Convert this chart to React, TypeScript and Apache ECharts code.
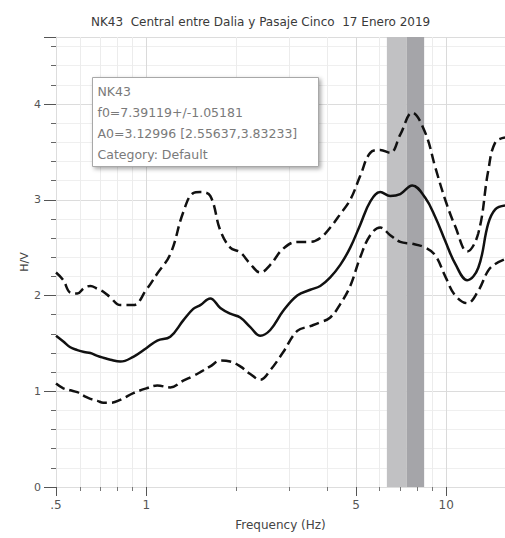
import React, { useEffect, useRef } from "react";
import * as echarts from "echarts";

// ---- data ----
const freqs = [
  0.5, 0.529, 0.558, 0.589, 0.621, 0.651, 0.687, 0.719, 0.759, 0.819, 0.905,
  1.0, 1.088, 1.202, 1.328, 1.434, 1.514, 1.634, 1.765, 1.905, 2.057, 2.222,
  2.399, 2.59, 2.862, 3.187, 3.522, 3.802, 4.105, 4.433, 4.786, 5.168, 5.58,
  6.026, 6.506, 7.025, 7.702, 8.511, 9.19, 9.923, 10.72, 11.75, 12.79, 13.8,
  14.57, 15.7,
];
const meanHV = [
  1.58, 1.52, 1.46, 1.43, 1.41, 1.4, 1.37, 1.35, 1.33, 1.31, 1.36,
  1.45, 1.53, 1.57, 1.74, 1.86, 1.9, 1.97, 1.87, 1.81, 1.77, 1.67,
  1.58, 1.64, 1.84, 2.0, 2.06, 2.1, 2.19, 2.32, 2.5, 2.74, 2.98,
  3.08, 3.04, 3.06, 3.15, 3.02, 2.82, 2.57, 2.33, 2.16, 2.29, 2.75,
  2.9, 2.94,
];
const upperHV = [
  2.24, 2.16, 2.03, 2.02, 2.08, 2.1, 2.07, 2.04, 1.98, 1.9, 1.9,
  2.06, 2.23, 2.43, 2.87, 3.07, 3.08, 3.04, 2.68, 2.5, 2.45, 2.33,
  2.24, 2.32, 2.49, 2.56, 2.56, 2.6, 2.71, 2.85, 3.0, 3.25, 3.49,
  3.52, 3.49, 3.68, 3.91, 3.7, 3.34, 3.0, 2.72, 2.46, 2.65, 3.3,
  3.6, 3.65,
];
const lowerHV = [
  1.08, 1.03, 1.01, 0.99, 0.95, 0.92, 0.9, 0.88, 0.88, 0.91, 0.98,
  1.03, 1.06, 1.04, 1.11, 1.16, 1.2, 1.26, 1.32, 1.31, 1.26, 1.18,
  1.12, 1.22, 1.41, 1.63, 1.68, 1.72, 1.77, 1.91, 2.1, 2.4, 2.63,
  2.71, 2.63, 2.56, 2.54, 2.5, 2.42, 2.2, 2.0, 1.92, 2.05, 2.26,
  2.33, 2.38,
];
const majorFreqTicks = [0.5, 1, 5, 10];
const minorFreqTicks = [0.6, 0.7, 0.8, 0.9, 2, 3, 4, 6, 7, 8, 9];
const f0Band = [6.34, 7.39, 8.44]; // f0 - std, f0, f0 + std
const titleText = "NK43  Central entre Dalia y Pasaje Cinco  17 Enero 2019";
const legendLines = [
  "NK43",
  "f0=7.39119+/-1.05181",
  "A0=3.12996 [2.55637,3.83233]",
  "Category: Default",
];

const X_MIN = 0.5;
const X_MAX = 15.7;
const Y_MAX = 4.7;

export default function App() {
  const ref = useRef<HTMLDivElement>(null);

  useEffect(() => {
    if (!ref.current) return;
    const chart = echarts.init(ref.current, null, { renderer: "svg" });
    const toPts = (vals: number[]) => freqs.map((f, i) => [f, vals[i]]);
    const font = "'DejaVu Sans', sans-serif";

    chart.setOption({
      animation: false,
      backgroundColor: "#ffffff",
      title: {
        text: titleText,
        left: 86,
        top: 11,
        textStyle: { fontFamily: font, fontSize: 12, fontWeight: "normal", color: "#3a3a3a" },
      },
      grid: { left: 56, right: 0, top: 37, bottom: 51, containLabel: false },
      xAxis: [
        {
          type: "log",
          logBase: 10,
          min: X_MIN,
          max: X_MAX,
          name: "Frequency (Hz)",
          nameLocation: "middle",
          nameGap: 32,
          nameTextStyle: { fontFamily: font, fontSize: 12, color: "#444" },
          axisLine: { show: true, lineStyle: { color: "#dddddd" } },
          axisTick: {
            show: true,
            customValues: majorFreqTicks,
            length: 9,
            lineStyle: { color: "#555" },
          },
          axisLabel: {
            customValues: majorFreqTicks,
            formatter: (v: number) => (v === 0.5 ? ".5" : String(v)),
            fontFamily: font,
            fontSize: 12,
            color: "#555",
            margin: 12,
          },
          splitLine: { show: true, lineStyle: { color: "#dadada", width: 1 } },
        },
        {
          type: "log",
          logBase: 10,
          min: X_MIN,
          max: X_MAX,
          position: "bottom",
          axisLine: { show: false },
          axisTick: {
            show: true,
            customValues: minorFreqTicks,
            length: 4,
            lineStyle: { color: "#777" },
          },
          axisLabel: { show: false },
          splitLine: { show: true, lineStyle: { color: "#ececec", width: 1 } },
        },
      ],
      yAxis: {
        type: "value",
        min: 0,
        max: Y_MAX,
        interval: 1,
        name: "H/V",
        nameLocation: "middle",
        nameGap: 26,
        nameMoveOverlap: false,
        nameTextStyle: { fontFamily: font, fontSize: 11, color: "#444" },
        axisLine: { show: true, lineStyle: { color: "#dddddd" } },
        axisTick: { show: true, length: 12, lineStyle: { color: "#555" } },
        minorTick: { show: true, splitNumber: 5, length: 5, lineStyle: { color: "#666" } },
        axisLabel: {
          fontFamily: font,
          fontSize: 11,
          color: "#555",
          margin: 15,
          showMaxLabel: false,
        },
        splitLine: { show: true, lineStyle: { color: "#dcdcdc" } },
        minorSplitLine: { show: true, lineStyle: { color: "#efefef" } },
      },
      series: [
        {
          type: "line",
          data: [],
          z: 1,
          silent: true,
          markArea: {
            silent: true,
            data: [
              [
                { xAxis: f0Band[0], itemStyle: { color: "#c1c1c3" } },
                { xAxis: f0Band[1] },
              ],
              [
                { xAxis: f0Band[1], itemStyle: { color: "#a5a5a9" } },
                { xAxis: f0Band[2] },
              ],
            ],
          },
        },
        {
          type: "line",
          name: "mean",
          data: toPts(meanHV),
          smooth: 0.4,
          showSymbol: false,
          z: 3,
          lineStyle: { color: "#111", width: 2.5 },
        },
        {
          type: "line",
          name: "upper",
          data: toPts(upperHV),
          smooth: 0.4,
          showSymbol: false,
          z: 3,
          lineStyle: { color: "#111", width: 2.5, type: [10, 5] },
        },
        {
          type: "line",
          name: "lower",
          data: toPts(lowerHV),
          smooth: 0.4,
          showSymbol: false,
          z: 3,
          lineStyle: { color: "#111", width: 2.5, type: [10, 5] },
        },
      ],
      graphic: [
        {
          type: "group",
          left: 92,
          top: 77,
          z: 10,
          children: [
            {
              type: "rect",
              z: 10,
              shape: { x: 0, y: 0, width: 226, height: 89 },
              style: {
                fill: "#ffffff",
                stroke: "#a8a8a8",
                lineWidth: 1,
                shadowBlur: 4,
                shadowOffsetX: 2,
                shadowOffsetY: 2,
                shadowColor: "rgba(0,0,0,0.35)",
              },
            },
            ...legendLines.map((t, i) => ({
              type: "text",
              z: 11,
              x: 5,
              y: 7 + i * 21.3,
              style: {
                text: t,
                fill: "#7a7a7a",
                font: "12.5px 'DejaVu Sans', sans-serif",
              },
            })),
          ],
        },
      ],
    });

    return () => chart.dispose();
  }, []);

  return (
    <div
      ref={ref}
      style={{ position: "fixed", left: 0, top: 0, width: 505, height: 538, background: "#fff" }}
    />
  );
}
